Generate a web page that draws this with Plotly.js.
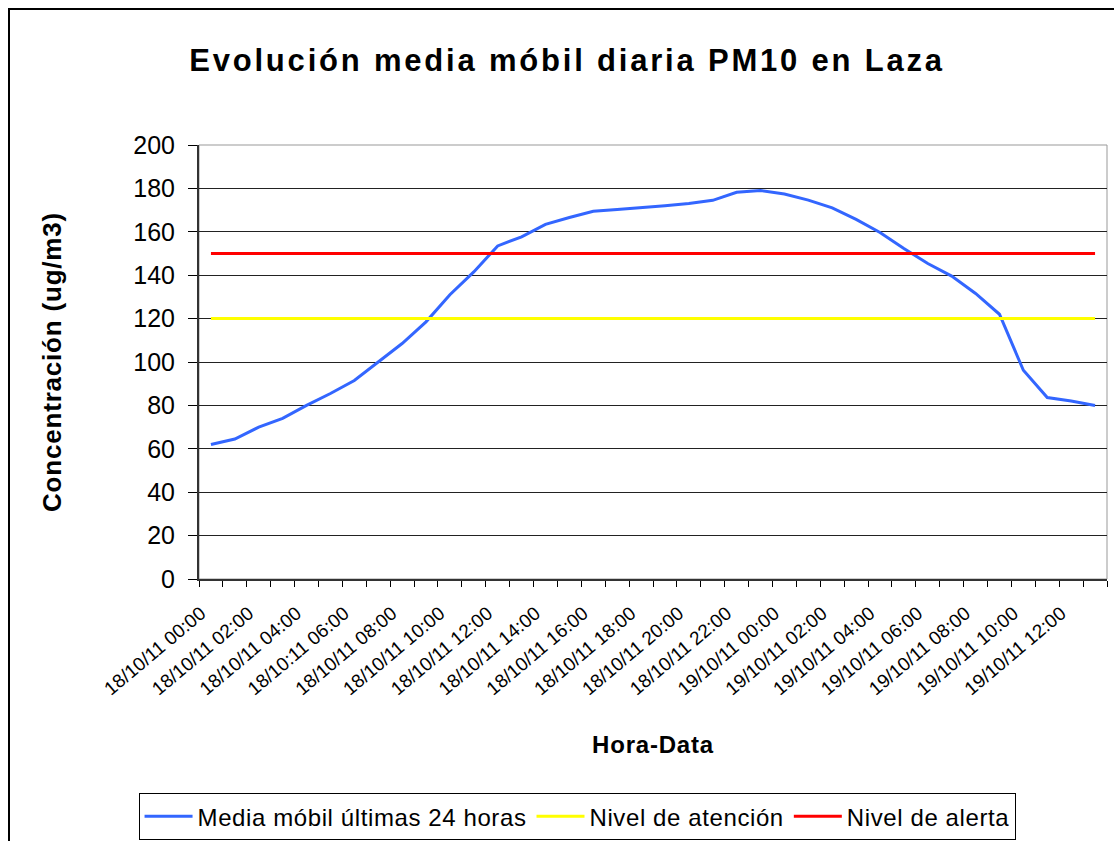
<!DOCTYPE html>
<html>
<head>
<meta charset="utf-8">
<script src="https://cdn.plot.ly/plotly-3.0.1.min.js"></script>
<style>
  html, body { margin: 0; padding: 0; background: #fff; }
  #wrap { position: relative; width: 1114px; height: 841px; overflow: hidden; }
  #chart { position: absolute; left: 0; top: 0; width: 1114px; height: 841px; }
  #frame { position: absolute; left: 8px; top: 8px; width: 1200px; height: 900px; border: 2px solid #000; pointer-events: none; }
  .gtitle { letter-spacing: 2.8px; }
  .legendtext { letter-spacing: 0.6px; }
  .g-ytitle text, .g-xtitle text { letter-spacing: 0.8px; }
</style>
</head>
<body>
<div id="wrap">
  <div id="chart"></div>
  <div id="frame"></div>
</div>
<script>
// Categories (hourly), as labelled in the source (note the original typo at 06:00)
const categories = [
  "18/10/11 00:00","18/10/11 01:00","18/10/11 02:00","18/10/11 03:00","18/10/11 04:00","18/10/11 05:00",
  "18/10:11 06:00","18/10/11 07:00","18/10/11 08:00","18/10/11 09:00","18/10/11 10:00","18/10/11 11:00",
  "18/10/11 12:00","18/10/11 13:00","18/10/11 14:00","18/10/11 15:00","18/10/11 16:00","18/10/11 17:00",
  "18/10/11 18:00","18/10/11 19:00","18/10/11 20:00","18/10/11 21:00","18/10/11 22:00","18/10/11 23:00",
  "19/10/11 00:00","19/10/11 01:00","19/10/11 02:00","19/10/11 03:00","19/10/11 04:00","19/10/11 05:00",
  "19/10/11 06:00","19/10/11 07:00","19/10/11 08:00","19/10/11 09:00","19/10/11 10:00","19/10/11 11:00",
  "19/10/11 12:00","19/10/11 13:00"
];

// Rolling 24-hour mean PM10 (ug/m3)
const mediaMobil = [
  62, 64.5, 70, 74, 80, 85.5, 91.5, 100, 108.5, 118.5, 131, 141.5,
  153.5, 157.7, 163.4, 166.6, 169.5, 170.3, 171, 172, 173, 174.5, 178.2, 179,
  177.4, 174.6, 171, 165.7, 159.7, 152.3, 145.4, 139.6, 131.6, 122, 96.2, 83.6,
  82, 80
];

// Thresholds
const nivelAtencion = 120;
const nivelAlerta = 150;

// Tick labels: every second category is labelled
const tickLabels = categories.map((c, i) => (i % 2 === 0 ? c : ""));

const seriesNames = ["Media móbil últimas 24 horas", "Nivel de atención", "Nivel de alerta"];
const seriesColors = ["#3366FF", "#FFFF00", "#FF0000"];

const FONT = "Liberation Sans, Arial, sans-serif";

const traces = [
  { x: categories, y: mediaMobil, name: seriesNames[0], type: "scatter", mode: "lines",
    line: { color: seriesColors[0], width: 3 } },
  { x: categories, y: categories.map(() => nivelAtencion), name: seriesNames[1], type: "scatter", mode: "lines",
    line: { color: seriesColors[1], width: 3 } },
  { x: categories, y: categories.map(() => nivelAlerta), name: seriesNames[2], type: "scatter", mode: "lines",
    line: { color: seriesColors[2], width: 3 } }
];

const layout = {
  width: 1114, height: 841,
  paper_bgcolor: "#ffffff", plot_bgcolor: "#ffffff",
  margin: { l: 199, r: 7, t: 145, b: 262 },
  font: { family: FONT, color: "#000" },
  showlegend: true,
  title: {
    text: "Evolución media móbil diaria PM10 en Laza",
    font: { family: FONT, size: 31, color: "#000", weight: "bold" },
    xref: "container", x: 0.509, xanchor: "center",
    yref: "container", y: 0.929, yanchor: "middle"
  },
  xaxis: {
    type: "category",
    range: [-0.5, categories.length - 0.5],
    tickmode: "array", tickvals: categories, ticktext: tickLabels,
    tickson: "boundaries",
    ticks: "outside", ticklen: 6, tickcolor: "#000", tickwidth: 1,
    tickangle: -40,
    tickfont: { family: FONT, size: 19, color: "#000" },
    ticklabelstandoff: 14,
    ticklabelshift: -10,
    showgrid: false, zeroline: false,
    showline: true, linecolor: "#333", linewidth: 2,
    title: { text: "Hora-Data", font: { family: FONT, size: 24, color: "#000", weight: "bold" }, standoff: 38 },
    fixedrange: true
  },
  yaxis: {
    range: [0, 200], dtick: 20, tick0: 0,
    ticks: "outside", ticklen: 9, tickcolor: "#000", tickwidth: 1,
    tickfont: { family: FONT, size: 25, color: "#000" },
    ticklabelstandoff: 8,
    showgrid: true, gridcolor: "#222", gridwidth: 1,
    zeroline: false,
    showline: true, linecolor: "#333", linewidth: 2,
    title: { text: "Concentración (ug/m3)", font: { family: FONT, size: 26, color: "#000", weight: "bold" }, standoff: 64 },
    fixedrange: true
  },
  shapes: [
    { type: "rect", xref: "paper", yref: "paper", x0: 0, x1: 1, y0: 0, y1: 1,
      line: { color: "#999", width: 1 }, layer: "below" }
  ],
  legend: {
    orientation: "h",
    xref: "container", x: 0.518, xanchor: "center",
    yref: "container", y: 0.057, yanchor: "top",
    bordercolor: "#000", borderwidth: 1, bgcolor: "#fff",
    font: { family: FONT, size: 24, color: "#000" },
    itemwidth: 48,
    traceorder: "normal"
  }
};

Plotly.newPlot("chart", traces, layout, { displayModeBar: false, staticPlot: true });
</script>
</body>
</html>
